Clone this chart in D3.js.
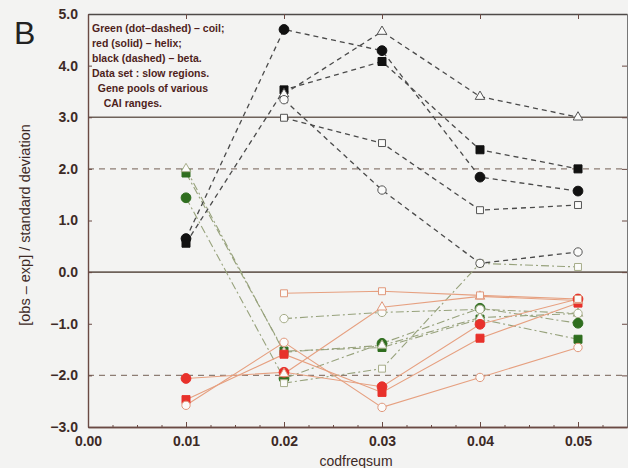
<!DOCTYPE html>
<html>
<head>
<meta charset="utf-8">
<script src="https://cdn.jsdelivr.net/npm/d3@7"></script>
<style>
  body { margin: 0; background: #f3f3f2; }
  svg { display: block; font-family: "Liberation Sans", Arial, sans-serif; }
</style>
</head>
<body>
<div id="chart"></div>
<script>
// x positions (codfreqsum) and one row per gene pool
var codfreqsum = [0.01, 0.02, 0.03, 0.04, 0.05];
var poolMarkers = ['filledCircle', 'filledSquare', 'openTriangle', 'openSquare', 'openCircle'];

// green, dot-dashed: coil
var coil = [
    [1.44, -2.06, -1.38, -0.70, -0.99],
    [1.92, -1.53, -1.46, -0.91, -1.30],
    [2.00, -1.55, -1.42, -0.88, -0.80],
    [null, -2.15, -1.87, 0.17, 0.10],
    [null, -0.90, -0.78, -0.72, -0.80]
];
// red, solid: helix
var helix = [
    [-2.06, -1.94, -2.22, -1.01, -0.52],
    [-2.47, -1.59, -2.33, -1.28, -0.60],
    [null, -1.97, -0.68, -0.47, -0.55],
    [null, -0.41, -0.37, -0.45, -0.52],
    [-2.58, -1.36, -2.62, -2.04, -1.46]
];
// black, dashed: beta
var beta = [
    [0.65, 4.70, 4.29, 1.84, 1.57],
    [0.56, 3.53, 4.08, 2.37, 2.00],
    [null, 3.45, 4.66, 3.40, 3.00],
    [null, 2.99, 2.50, 1.20, 1.30],
    [null, 3.34, 1.59, 0.17, 0.39]
];

var xTicks = [0.00, 0.01, 0.02, 0.03, 0.04, 0.05];
var yTicks = [-3, -2, -1, 0, 1, 2, 3, 4, 5];
var solidRefs = [3, 0];
var dashedRefs = [2, -2];
var legendLines = [
    'Green (dot\u2013dashed) \u2013 coil;',
    'red (solid) \u2013 helix;',
    'black (dashed) \u2013 beta.',
    'Data set : slow regions.',
    '  Gene pools of various',
    '    CAI ranges.'
];

var width = 628, height = 468;
var plotLeft = 88, plotRight = 627, plotTop = 14, plotBottom = 427;

var svg = d3.select('#chart').append('svg')
    .attr('width', width)
    .attr('height', height);

var x = d3.scaleLinear().domain([0, 0.055]).range([plotLeft, plotRight]);
var y = d3.scaleLinear().domain([-3, 5]).range([plotBottom, plotTop]);

var textColor = '#3d2a26';

// reference lines
svg.selectAll('line.solidRef').data(solidRefs).enter().append('line')
    .attr('x1', plotLeft).attr('x2', plotRight)
    .attr('y1', function(d){ return y(d); }).attr('y2', function(d){ return y(d); })
    .attr('stroke', '#6e625a').attr('stroke-width', 1.6);
svg.selectAll('line.dashedRef').data(dashedRefs).enter().append('line')
    .attr('x1', plotLeft).attr('x2', plotRight)
    .attr('y1', function(d){ return y(d); }).attr('y2', function(d){ return y(d); })
    .attr('stroke', '#8d7d74').attr('stroke-width', 1.3)
    .attr('stroke-dasharray', '6,5');

// axes (box with inward ticks)
var fmt1 = d3.format('.1f');
var fmt2 = d3.format('.2f');
function minus(s){ return s.replace('-', '\u2212'); }

var yAxis = svg.append('g')
    .attr('transform', 'translate(' + plotLeft + ',0)')
    .call(d3.axisLeft(y).tickValues(yTicks).tickSizeInner(-4).tickSizeOuter(0)
        .tickPadding(10).tickFormat(function(d){ return minus(fmt1(d)); }));
var yAxisR = svg.append('g')
    .attr('transform', 'translate(' + plotRight + ',0)')
    .call(d3.axisRight(y).tickValues(yTicks).tickSizeInner(-5).tickSizeOuter(0).tickFormat(''));
var xAxis = svg.append('g')
    .attr('transform', 'translate(0,' + plotBottom + ')')
    .call(d3.axisBottom(x).tickValues(xTicks).tickSizeInner(-5).tickSizeOuter(0)
        .tickPadding(9).tickFormat(fmt2));
var xMinor = svg.append('g')
    .attr('transform', 'translate(0,' + plotBottom + ')')
    .call(d3.axisBottom(x).tickValues(d3.range(0.0025, 0.055, 0.0025)).tickSizeInner(-2).tickSizeOuter(0).tickFormat(''));
var xAxisT = svg.append('g')
    .attr('transform', 'translate(0,' + plotTop + ')')
    .call(d3.axisTop(x).tickValues(xTicks).tickSizeInner(-5).tickSizeOuter(0).tickFormat(''));

[yAxis, yAxisR, xAxis, xMinor, xAxisT].forEach(function(g){
    g.select('.domain').attr('stroke', '#6a4a44').attr('stroke-width', 1.4);
    g.selectAll('.tick line').attr('stroke', '#6a4a44');
});
yAxisR.select('.domain').attr('stroke', '#777').attr('stroke-width', 1);
xAxisT.select('.domain').attr('stroke', '#4e4a48').attr('stroke-width', 1.6);

[yAxis, xAxis].forEach(function(g){
    g.selectAll('.tick text')
        .attr('fill', textColor)
        .style('font-size', '14px')
        .style('font-weight', 'bold');
});

// series
var groups = [
    {data: coil, line: '#97a27c', dash: '8,3,2,3', mark: '#2f6e1f', open: '#a7ad8a', width: 1.1},
    {data: helix, line: '#e6a080', dash: null, mark: '#e8312b', open: '#e0987c', width: 1.1},
    {data: beta, line: '#4a4a4a', dash: '5,4', mark: '#111111', open: '#555555', width: 1.3}
];

var lineGen = d3.line()
    .defined(function(d){ return d[1] !== null; })
    .x(function(d){ return x(d[0]); })
    .y(function(d){ return y(d[1]); });

groups.forEach(function(grp){
    grp.data.forEach(function(values){
        var pts = codfreqsum.map(function(c, i){ return [c, values[i]]; });
        svg.append('path')
            .attr('d', lineGen(pts))
            .attr('fill', 'none')
            .attr('stroke', grp.line)
            .attr('stroke-width', grp.width)
            .attr('stroke-dasharray', grp.dash);
    });
});

var symbolFor = {
    filledCircle: d3.symbolCircle,
    filledSquare: d3.symbolSquare,
    openTriangle: d3.symbolTriangle,
    openSquare: d3.symbolSquare,
    openCircle: d3.symbolCircle
};
var sizeFor = {filledCircle: 75, filledSquare: 64, openTriangle: 40, openSquare: 48, openCircle: 55};

groups.forEach(function(grp){
    grp.data.forEach(function(values, p){
        var kind = poolMarkers[p];
        var filled = kind.indexOf('filled') === 0;
        values.forEach(function(v, i){
            if(v === null) return;
            svg.append('path')
                .attr('d', d3.symbol().type(symbolFor[kind]).size(sizeFor[kind])())
                .attr('transform', 'translate(' + x(codfreqsum[i]) + ',' + y(v) + ')')
                .attr('fill', filled ? grp.mark : '#fbfbfa')
                .attr('stroke', filled ? grp.mark : grp.open)
                .attr('stroke-width', 1);
        });
    });
});

// legend text
svg.append('g').selectAll('text').data(legendLines).enter().append('text')
    .attr('x', 92)
    .attr('y', function(d, i){ return 32 + i * 15; })
    .attr('fill', '#4f1f1c')
    .style('font-size', '10.5px')
    .style('font-weight', 'bold')
    .style('white-space', 'pre')
    .text(function(d){ return d; });

// titles
svg.append('text')
    .attr('x', 14).attr('y', 44)
    .attr('fill', '#222')
    .style('font-size', '32px')
    .text('B');

svg.append('text')
    .attr('transform', 'translate(30,225) rotate(-90)')
    .attr('text-anchor', 'middle')
    .attr('fill', textColor)
    .style('font-size', '14.5px')
    .text('[obs \u2013 exp] / standard deviation');

svg.append('text')
    .attr('x', 356).attr('y', 466)
    .attr('text-anchor', 'middle')
    .attr('fill', textColor)
    .style('font-size', '14px')
    .text('codfreqsum');
</script>
</body>
</html>
